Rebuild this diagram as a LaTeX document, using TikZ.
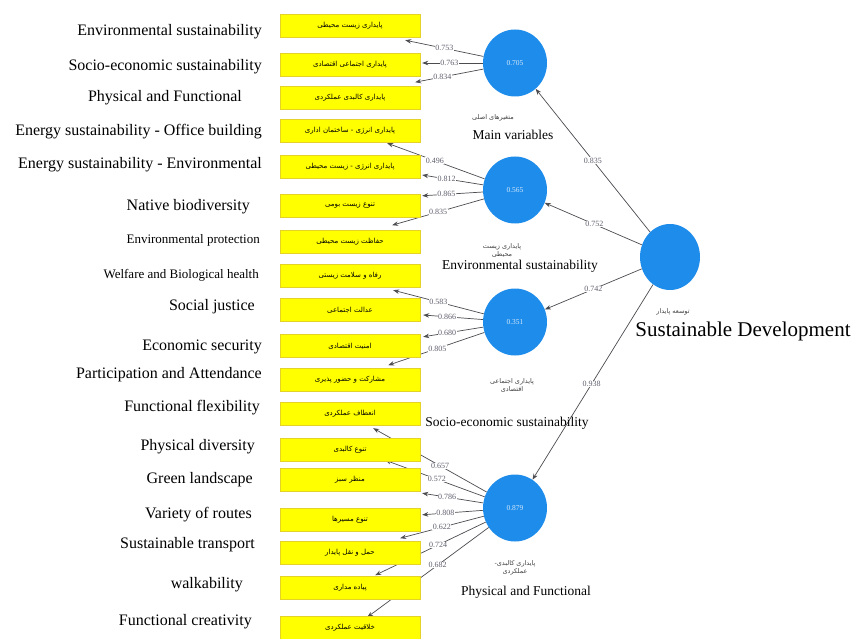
\documentclass[tikz,border=0pt]{standalone}
\usepackage{fontspec}
\setmainfont{Liberation Serif}
\newfontfamily\farsifont[Script=Arabic]{DejaVu Sans}
\TeXXeTstate=1
\usetikzlibrary{shapes.geometric,backgrounds,arrows.meta}
\definecolor{boxyellow}{RGB}{255,255,0}
\definecolor{boxedge}{RGB}{228,210,40}
\definecolor{latentblue}{RGB}{30,140,235}
\definecolor{loadgray}{RGB}{95,95,110}
\definecolor{linegray}{RGB}{75,75,80}
\newcommand{\fatext}[1]{{\farsifont\beginR #1\endR}}
\begin{document}
\begin{tikzpicture}[>={Stealth[length=6pt,width=4.5pt]}, x=1pt, y=-1pt,
  indicator/.style={draw=boxedge, fill=boxyellow, minimum width=140pt, minimum height=23pt, inner sep=0pt, font=\fontsize{7}{8}\selectfont},
  latent/.style={ellipse, fill=latentblue, minimum width=64pt, minimum height=67pt, inner sep=0pt, text=white!80!latentblue, font=\fontsize{7.5}{8}\selectfont},
  itemlabel/.style={anchor=east, inner sep=0pt, font=\fontsize{16}{18}\selectfont},
  smalllabel/.style={anchor=east, inner sep=0pt, font=\fontsize{13}{15}\selectfont},
  latentlabel/.style={inner sep=0pt, font=\fontsize{13.5}{15}\selectfont},
  farsilabel/.style={inner sep=0pt, align=center, text=black!75, font=\fontsize{6.5}{8}\selectfont},
  loading/.style={fill=white, inner sep=0.5pt, text=loadgray, font=\fontsize{8}{9}\selectfont},
  link/.style={->, draw=linegray, line width=0.7pt}]
\useasboundingbox (0,0) rectangle (856,639);

% indicator boxes
\node[indicator] (envbox) at (350,26) {\fatext{پایداری زیست محیطی}};
\node[indicator] (sociobox) at (350,65) {\fatext{پایداری اجتماعی اقتصادی}};
\node[indicator] (physbox) at (350,98) {\fatext{پایداری کالبدی عملکردی}};
\node[indicator] (officebox) at (350,131) {\fatext{پایداری انرژی - ساختمان اداری}};
\node[indicator] (energybox) at (350,167) {\fatext{پایداری انرژی - زیست محیطی}};
\node[indicator] (nativebox) at (350,206) {\fatext{تنوع زیست بومی}};
\node[indicator] (protbox) at (350,242) {\fatext{حفاظت زیست محیطی}};
\node[indicator] (welfbox) at (350,276) {\fatext{رفاه و سلامت زیستی}};
\node[indicator] (justbox) at (350,310) {\fatext{عدالت اجتماعی}};
\node[indicator] (secbox) at (350,346) {\fatext{امنیت اقتصادی}};
\node[indicator] (partbox) at (350,380) {\fatext{مشارکت و حضور پذیری}};
\node[indicator] (flexbox) at (350,414) {\fatext{انعطاف عملکردی}};
\node[indicator] (divbox) at (350,450) {\fatext{تنوع کالبدی}};
\node[indicator] (greenbox) at (350,480) {\fatext{منظر سبز}};
\node[indicator] (routebox) at (350,520) {\fatext{تنوع مسیرها}};
\node[indicator] (transbox) at (350,553) {\fatext{حمل و نقل پایدار}};
\node[indicator] (walkbox) at (350,588) {\fatext{پیاده مداری}};
\node[indicator] (creatbox) at (350,628) {\fatext{خلاقیت عملکردی}};

% english names
\node[itemlabel] (envlabel) at (262,32) {Environmental sustainability};
\node[itemlabel] (sociolabel) at (262,67) {Socio-economic sustainability};
\node[itemlabel] (physlabel) at (242,98) {Physical and Functional};
\node[itemlabel] (officelabel) at (262,132) {Energy sustainability - Office building};
\node[itemlabel] (energylabel) at (262,165) {Energy sustainability - Environmental};
\node[itemlabel] (nativelabel) at (250,207) {Native biodiversity};
\node[smalllabel] (protlabel) at (260,240) {Environmental protection};
\node[smalllabel] (welflabel) at (259,275) {Welfare and Biological health};
\node[itemlabel] (justlabel) at (255,307) {Social justice};
\node[itemlabel] (seclabel) at (262,347) {Economic security};
\node[itemlabel] (partlabel) at (262,375) {Participation and Attendance};
\node[itemlabel] (flexlabel) at (260,408) {Functional flexibility};
\node[itemlabel] (divlabel) at (255,447) {Physical diversity};
\node[itemlabel] (greenlabel) at (253,480) {Green landscape};
\node[itemlabel] (routelabel) at (252,515) {Variety of routes};
\node[itemlabel] (translabel) at (255,545) {Sustainable transport};
\node[itemlabel] (walklabel) at (243,585) {walkability};
\node[itemlabel] (creatlabel) at (252,622) {Functional creativity};

% latent variables
\node[latent] (mainvar) at (515,63) {0.705};
\node[latent] (envsust) at (515,190) {0.565};
\node[latent] (socsust) at (515,322) {0.351};
\node[latent] (physfunc) at (515,508) {0.879};
\node[latent, minimum width=60pt, minimum height=66pt] (sustdev) at (670,257) {};

\node[farsilabel] (mainvarfa) at (493,118) {\fatext{متغیرهای اصلی}};
\node[latentlabel] (mainvaren) at (513,135) {Main variables};
\node[farsilabel] (envsustfa) at (502,251) {\fatext{پایداری زیست}\\\fatext{محیطی}};
\node[latentlabel] (envsusten) at (520,266) {Environmental sustainability};
\node[farsilabel] (socsustfa) at (512,385) {\fatext{پایداری اجتماعی}\\\fatext{اقتصادی}};
\node[latentlabel] (socsusten) at (507,423) {Socio-economic sustainability};
\node[farsilabel] (physfuncfa) at (515,568) {\fatext{پایداری کالبدی-}\\\fatext{عملکردی}};
\node[latentlabel] (physfuncen) at (526,592) {Physical and Functional};
\node[farsilabel] (sustdevfa) at (673,312) {\fatext{توسعه پایدار}};
\node[latentlabel, font=\fontsize{21}{24}\selectfont] (sustdeven) at (743,331) {Sustainable Development};

\begin{scope}[on background layer]
% structural paths
\draw[link] (sustdev) -- node[loading, pos=0.5] {0.835} (mainvar);
\draw[link] (sustdev) -- node[loading, pos=0.49] {0.752} (envsust);
\draw[link] (sustdev) -- node[loading, pos=0.5] {0.742} (socsust);
\draw[link] (sustdev) -- node[loading, pos=0.51] {0.938} (physfunc);
% main variables
\draw[link] (mainvar) -- node[loading, pos=0.5] {0.753} ([xshift=-15pt,yshift=-2.5pt]envbox.south east);
\draw[link] (mainvar) -- node[loading, pos=0.55] {0.763} ([xshift=2pt,yshift=2pt]sociobox.east);
\draw[link] (mainvar) -- node[loading, pos=0.6] {0.834} ([xshift=-5pt,yshift=-5.5pt]sociobox.south east);
% environmental
\draw[link] (envsust) -- node[loading, pos=0.51] {0.496} ([xshift=-33pt,yshift=-0.5pt]officebox.south east);
\draw[link] (envsust) -- node[loading, pos=0.6] {0.812} ([xshift=2pt,yshift=-8pt]energybox.east);
\draw[link] (envsust) -- node[loading, pos=0.6] {0.865} ([xshift=2pt,yshift=-1.5pt]nativebox.north east);
\draw[link] (envsust) -- node[loading, pos=0.5] {0.835} ([xshift=-28pt,yshift=-7.5pt]nativebox.south east);
% socio-economic
\draw[link] (socsust) -- node[loading, pos=0.5] {0.583} ([xshift=-27pt,yshift=-2.5pt]welfbox.south east);
\draw[link] (socsust) -- node[loading, pos=0.6] {0.866} ([xshift=3pt,yshift=-5pt]justbox.east);
\draw[link] (socsust) -- node[loading, pos=0.6] {0.680} ([xshift=3pt,yshift=-2.5pt]secbox.north east);
\draw[link] (socsust) -- node[loading, pos=0.49] {0.805} ([xshift=-32pt,yshift=-7.5pt]secbox.south east);
% physical and functional
\draw[link] (physfunc) -- node[loading, pos=0.41] {0.657} ([xshift=-47pt,yshift=-2.5pt]flexbox.south east);
\draw[link] (physfunc) -- node[loading, pos=0.48] {0.572} ([xshift=-35pt,yshift=1.5pt]divbox.south east);
\draw[link] (physfunc) -- node[loading, pos=0.59] {0.786} ([xshift=2pt,yshift=-1.5pt]greenbox.south east);
\draw[link] (physfunc) -- node[loading, pos=0.62] {0.808} ([xshift=2pt,yshift=-6.5pt]routebox.north east);
\draw[link] (physfunc) -- node[loading, pos=0.5] {0.622} ([xshift=-20pt,yshift=-6.5pt]routebox.south east);
\draw[link] (physfunc) -- node[loading, pos=0.43] {0.724} ([xshift=-45pt,yshift=-10.5pt]transbox.south east);
\draw[link] (physfunc) -- node[loading, pos=0.42] {0.682} ([xshift=-53pt,yshift=-17.5pt]walkbox.south east);
\end{scope}
\end{tikzpicture}
\end{document}
